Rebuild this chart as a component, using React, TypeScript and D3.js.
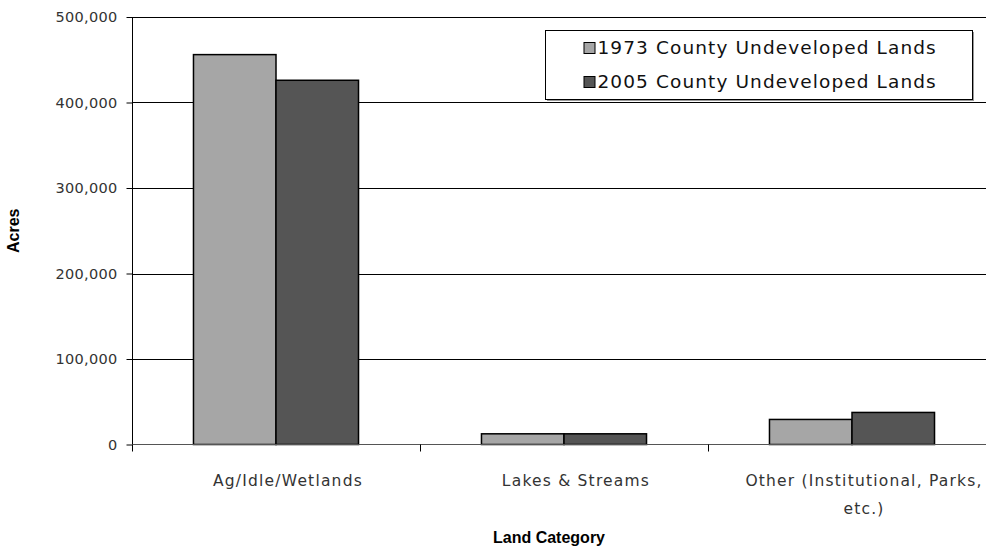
import React, { useEffect, useRef } from 'react';
import * as d3 from 'd3';

const categories = ['Ag/Idle/Wetlands', 'Lakes & Streams', 'Other (Institutional, Parks, etc.)'];
const seriesNames = ['1973 County Undeveloped Lands', '2005 County Undeveloped Lands'];
const values1973 = [456000, 12500, 29300];
const values2005 = [426000, 12500, 37500];
const yTicks = [0, 100000, 200000, 300000, 400000, 500000];
const seriesColors = ['#a6a6a6', '#555555'];

type Datum = { category: string; series: string; value: number; color: string };

const App: React.FC = () => {
  const svgRef = useRef<SVGSVGElement>(null);

  useEffect(() => {
    const svgEl = svgRef.current;
    if (!svgEl) return;
    const svg = d3.select(svgEl);
    svg.selectAll('*').remove();

    /* ---------- Layout ---------- */
    const left = 132;
    const right = 996;
    const top = 17;
    const bottom = 444.5;
    const labelShift = 12; // category labels sit a bit right of the band centre
    const labelFont = '"Century Gothic", "DejaVu Sans", sans-serif';
    const titleFont = '"Liberation Sans", Arial, sans-serif';

    const x0 = d3.scaleBand<string>().domain(categories).range([left, right]).padding(0);
    const x1 = d3
      .scaleBand<string>()
      .domain(seriesNames)
      .range([0, x0.bandwidth()])
      .paddingInner(0)
      .paddingOuter(0.745);
    const y = d3.scaleLinear().domain([0, 500000]).range([bottom, top]);

    const data: Datum[] = [];
    categories.forEach((c, i) => {
      data.push({ category: c, series: seriesNames[0], value: values1973[i], color: seriesColors[0] });
      data.push({ category: c, series: seriesNames[1], value: values2005[i], color: seriesColors[1] });
    });

    /* ---------- Gridlines ---------- */
    svg
      .append('g')
      .selectAll('line')
      .data(yTicks.filter(t => t > 0))
      .enter()
      .append('line')
      .attr('x1', left)
      .attr('x2', right)
      .attr('y1', d => Math.round(y(d)) + 0.5)
      .attr('y2', d => Math.round(y(d)) + 0.5)
      .attr('stroke', '#000')
      .attr('stroke-width', 1);

    /* ---------- Y axis ---------- */
    const yAxis = d3
      .axisLeft(y)
      .tickValues(yTicks)
      .tickSize(6)
      .tickPadding(9)
      .tickFormat(d => d3.format(',')(d as number));
    const yg = svg.append('g').attr('transform', `translate(${left + 0.5},0)`).call(yAxis);
    yg.select('.domain').attr('stroke', '#000').attr('d', `M0,${top}V${bottom}`);
    yg.selectAll('.tick line').attr('stroke', '#000');
    yg.selectAll('.tick text')
      .attr('fill', '#333')
      .style('font-family', labelFont)
      .style('font-size', '14.5px')
      .style('letter-spacing', '0.3px');

    /* ---------- Bars ---------- */
    svg
      .append('g')
      .selectAll('rect')
      .data(data)
      .enter()
      .append('rect')
      .attr('x', d => x0(d.category)! + x1(d.series)!)
      .attr('y', d => y(d.value))
      .attr('width', x1.bandwidth())
      .attr('height', d => y(0) - y(d.value))
      .attr('fill', d => d.color)
      .attr('stroke', '#000')
      .attr('stroke-width', 1.5);

    /* ---------- X axis ---------- */
    svg
      .append('line')
      .attr('x1', left)
      .attr('x2', right)
      .attr('y1', bottom)
      .attr('y2', bottom)
      .attr('stroke', '#555')
      .attr('stroke-width', 1.2);
    const catEdges = [...categories.map(c => x0(c)!), right];
    svg
      .append('g')
      .selectAll('line')
      .data(catEdges)
      .enter()
      .append('line')
      .attr('x1', d => Math.round(d) + 0.5)
      .attr('x2', d => Math.round(d) + 0.5)
      .attr('y1', bottom)
      .attr('y2', bottom + 7)
      .attr('stroke', '#000');

    // category labels, wrapped to the band width
    const catLabels = svg
      .append('g')
      .selectAll('text')
      .data(categories)
      .enter()
      .append('text')
      .attr('text-anchor', 'middle')
      .attr('fill', '#333')
      .style('font-family', labelFont)
      .style('font-size', '15.5px')
      .style('letter-spacing', '1.2px')
      .attr('x', d => x0(d)! + x0.bandwidth() / 2 + labelShift)
      .attr('y', 486);
    catLabels.each(function (d) {
      const t = d3.select(this);
      const words = d.split(' ');
      const lines: string[] = [];
      let line = '';
      words.forEach(w => {
        const test = line ? line + ' ' + w : w;
        if (test.length > 28 && line) {
          lines.push(line);
          line = w;
        } else line = test;
      });
      lines.push(line);
      lines.forEach((l, i) => {
        t.append('tspan')
          .attr('x', x0(d)! + x0.bandwidth() / 2 + labelShift)
          .attr('dy', i === 0 ? 0 : 28)
          .text(l);
      });
    });

    /* ---------- Axis titles ---------- */
    svg
      .append('text')
      .attr('text-anchor', 'middle')
      .attr('x', 549)
      .attr('y', 537)
      .attr('dy', '0.35em')
      .style('font-family', titleFont)
      .style('font-weight', 'bold')
      .style('font-size', '16px')
      .attr('fill', '#000')
      .text('Land Category');
    svg
      .append('text')
      .attr('text-anchor', 'middle')
      .attr('transform', `translate(19,${(top + bottom) / 2}) rotate(-90)`)
      .style('font-family', titleFont)
      .style('font-weight', 'bold')
      .style('font-size', '16px')
      .attr('fill', '#000')
      .text('Acres');

    /* ---------- Legend ---------- */
    const legend = svg.append('g').attr('transform', 'translate(545.5,30.5)');
    legend
      .append('rect')
      .attr('x', 1.5)
      .attr('y', 1.5)
      .attr('width', 427)
      .attr('height', 69)
      .attr('fill', '#999');
    legend
      .append('rect')
      .attr('width', 427)
      .attr('height', 69)
      .attr('fill', '#fff')
      .attr('stroke', '#000');
    seriesNames.forEach((s, i) => {
      const cy = 17 + i * 34;
      legend
        .append('rect')
        .attr('x', 38.5)
        .attr('y', cy - 5)
        .attr('width', 11)
        .attr('height', 11)
        .attr('fill', seriesColors[i])
        .attr('stroke', '#000');
      legend
        .append('text')
        .attr('x', 52)
        .attr('y', cy)
        .attr('dy', '0.36em')
        .attr('fill', '#111')
        .style('font-family', labelFont)
        .style('font-size', '18.5px')
        .style('letter-spacing', '1.1px')
        .text(s);
    });
  }, []);

  return (
    <div
      style={{
        position: 'fixed',
        left: 0,
        top: 0,
        width: 986,
        height: 550,
        overflow: 'hidden',
        background: '#fff',
      }}
    >
      <svg ref={svgRef} width={986} height={550} style={{ display: 'block' }} />
    </div>
  );
};

export default App;
